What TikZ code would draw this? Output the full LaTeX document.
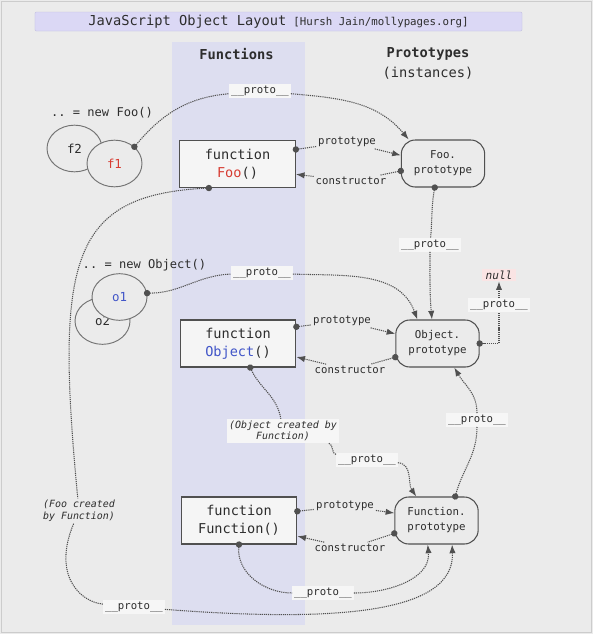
\documentclass[tikz,border=0pt]{standalone}
\usepackage{fontspec}
\setmonofont{DejaVu Sans Mono}
\usepackage{tikz}
\usetikzlibrary{arrows.meta,shapes.geometric}
\definecolor{bgc}{RGB}{235,235,235}
\definecolor{bandc}{RGB}{221,222,240}
\definecolor{titlec}{RGB}{219,216,245}
\definecolor{titled}{RGB}{188,186,222}
\definecolor{edgec}{RGB}{80,80,80}
\definecolor{txtc}{RGB}{45,45,45}
\definecolor{redc}{RGB}{215,60,50}
\definecolor{bluec}{RGB}{65,85,200}
\definecolor{lblc}{RGB}{246,246,246}
\definecolor{nullc}{RGB}{250,228,228}
\tikzset{
  fn/.style={rectangle,draw=edgec,line width=0.9pt,fill=black!4,minimum width=3.47cm,minimum height=1.41cm,inner sep=0pt,align=center,text=txtc,font=\ttfamily\fontsize{11.6}{15.5}\selectfont},
  pr/.style={rectangle,rounded corners=0.42cm,draw=edgec,line width=0.9pt,fill=bgc,minimum width=2.5cm,minimum height=1.41cm,inner sep=0pt,align=center,text=txtc,font=\ttfamily\fontsize{9.2}{12.8}\selectfont},
  inst/.style={ellipse,draw=black!55,line width=0.8pt,fill=bgc,minimum width=1.65cm,minimum height=1.4cm,inner sep=0pt,text=txtc,font=\ttfamily\fontsize{10.6}{12}\selectfont},
  lbl/.style={inner sep=1.5pt,text=txtc,font=\ttfamily\fontsize{9.1}{11}\selectfont},
  plbl/.style={lbl,fill=lblc},
  note/.style={inner sep=1.5pt,align=center,text=txtc,font=\ttfamily\itshape\fontsize{8.5}{10}\selectfont},
  head/.style={text=txtc,font=\ttfamily\fontsize{11.7}{14}\selectfont},
  lnk/.style={edgec,line width=0.9pt,dash pattern=on 1pt off 0.8pt},
  lnkS/.style={lnk,{Circle[length=1.9mm]}-,shorten <=-0.95mm},
  lnkE/.style={lnk,-{Latex[length=2.6mm,width=1.9mm]}},
}

\begin{document}
\begin{tikzpicture}[x=0.03cm,y=-0.03cm]
  % page, frame and the functions column
  \fill[bgc] (0,0) rectangle (593,634);
  \draw[black!20,line width=0.8pt] (1.5,1.5) rectangle (591.5,632.5);
  \useasboundingbox (0,0) rectangle (593,634);
  \fill[bandc] (172,42) rectangle (305,625);
  \node[rectangle,draw=titled,fill=titlec,rounded corners=1pt,minimum width=14.61cm,minimum height=0.57cm,inner sep=0pt,text=txtc,font=\ttfamily] (title) at (278.5,21.5){{\fontsize{11.7}{14}\selectfont JavaScript Object Layout} {\fontsize{9.2}{11}\selectfont [Hursh Jain/mollypages.org]}};
  \node[head] (hfun) at (236.5,54){\bfseries Functions};
  \node[head] (hpro) at (428,54){\bfseries Prototypes};
  \node[head] (hins) at (428,73){(instances)};
  % instances (ellipses)
  \node[lbl,font=\ttfamily\fontsize{10.3}{12}\selectfont] (newfoo) at (102,113){.. = new Foo()};
  \node[inst] (f2) at (74.5,148.5){f2};
  \node[inst,text=redc] (f1) at (114.5,163.5){f1};
  \node[lbl,font=\ttfamily\fontsize{10.3}{12}\selectfont] (newobj) at (144.5,265){.. = new Object()};
  \node[inst] (o2) at (102.5,321){o2};
  \node[inst,text=bluec] (o1) at (119.5,297){o1};
  % function boxes and prototype boxes
  \node[fn] (foo) at (237.5,164){function\\\textcolor{redc}{Foo}()};
  \node[fn] (obj) at (238,343.5){function\\\textcolor{bluec}{Object}()};
  \node[fn] (fun) at (239,520.5){function\\Function()};
  \node[pr] (fooP) at (443,163.5){Foo.\\prototype};
  \node[pr] (objP) at (437.5,343.5){Object.\\prototype};
  \node[pr] (funP) at (436.5,520.5){Function.\\prototype};
  \node[lbl,fill=nullc,inner xsep=3pt,font=\ttfamily\itshape\fontsize{9.5}{11}\selectfont] (nul) at (499,275){null};
  % link labels
  \node[plbl] (pA) at (260,91){\_\_proto\_\_};
  \node[lbl] (lpA) at (347,142){prototype};
  \node[lbl] (lcA) at (351,181){constructor};
  \node[plbl] (pB) at (430,245){\_\_proto\_\_};
  \node[plbl] (pC) at (262,273){\_\_proto\_\_};
  \node[lbl] (lpB) at (342,321){prototype};
  \node[lbl] (lcB) at (350,370){constructor};
  \node[plbl] (pD) at (499,305){\_\_proto\_\_};
  \node[plbl] (pE) at (477,420){\_\_proto\_\_};
  \node[note,fill=lblc] (oc) at (283,431){(Object created by\\Function)};
  \node[plbl] (pF) at (367,460){\_\_proto\_\_};
  \node[lbl] (lpC) at (345,506){prototype};
  \node[lbl] (lcC) at (350,548){constructor};
  \node[plbl] (pG) at (323,593){\_\_proto\_\_};
  \node[note] (fc) at (79,511){(Foo created\\by Function)};
  \node[plbl] (pH) at (134,607){\_\_proto\_\_};
  % prototype / constructor links
  \draw[lnkS] (foo.14) -- (lpA); \draw[lnkE] (lpA) -- (fooP.169);
  \draw[lnkS] (fooP.190) -- (lcA); \draw[lnkE] (lcA) -- (foo.-10);
  \draw[lnkS] (obj.16) -- (lpB); \draw[lnkE] (lpB) -- (objP.167);
  \draw[lnkS] (objP.198) -- (lcB); \draw[lnkE] (lcB) -- (obj.-13);
  \draw[lnkS] (fun.9) -- (lpC); \draw[lnkE] (lpC) -- (funP.170);
  \draw[lnkS] (funP.197) -- (lcC); \draw[lnkE] (lcC) -- (fun.-15);
  % __proto__ chains
  \draw[lnkS] (f1.40) to[out=50,in=185] (pA);
  \draw[lnkE] (pA) to[out=-5,in=130] (fooP.145);
  \draw[lnkS] (fooP.-109) to[out=-100,in=85] (pB);
  \draw[lnkE] (pB) to[out=-90,in=95] (objP.103);
  \draw[lnkS] (o1.8) to[out=0,in=182] (pC);
  \draw[lnkE] (pC) to[out=-2,in=110] (objP.130);
  \draw[lnkS] (objP.east) -| (pD);
  \draw[lnkE] (pD) -- (nul);
  \draw[lnkS] (funP.52) to[out=75,in=-90] (pE);
  \draw[lnkE] (pE) to[out=90,in=-60] (objP.-55);
  \draw[lnkS] (obj.-63) to[out=-65,in=100] (oc);
  \draw[lnk] (oc) to[out=-15,in=170] (pF);
  \draw[lnkE] (pF) to[out=-5,in=125] (funP.130);
  \draw[lnkS] (fun.south) to[out=-95,in=180] (pG);
  \draw[lnkE] (pG) to[out=0,in=-85] (funP.-110);
  \draw[lnkS] (foo.-140) .. controls (70,195) and (55,260) .. (fc);
  \draw[lnk] (fc) .. controls (52,575) and (80,602) .. (pH);
  \draw[lnkE] (pH) .. controls (330,622) and (455,615) .. (funP.-57);
\end{tikzpicture}
\end{document}
